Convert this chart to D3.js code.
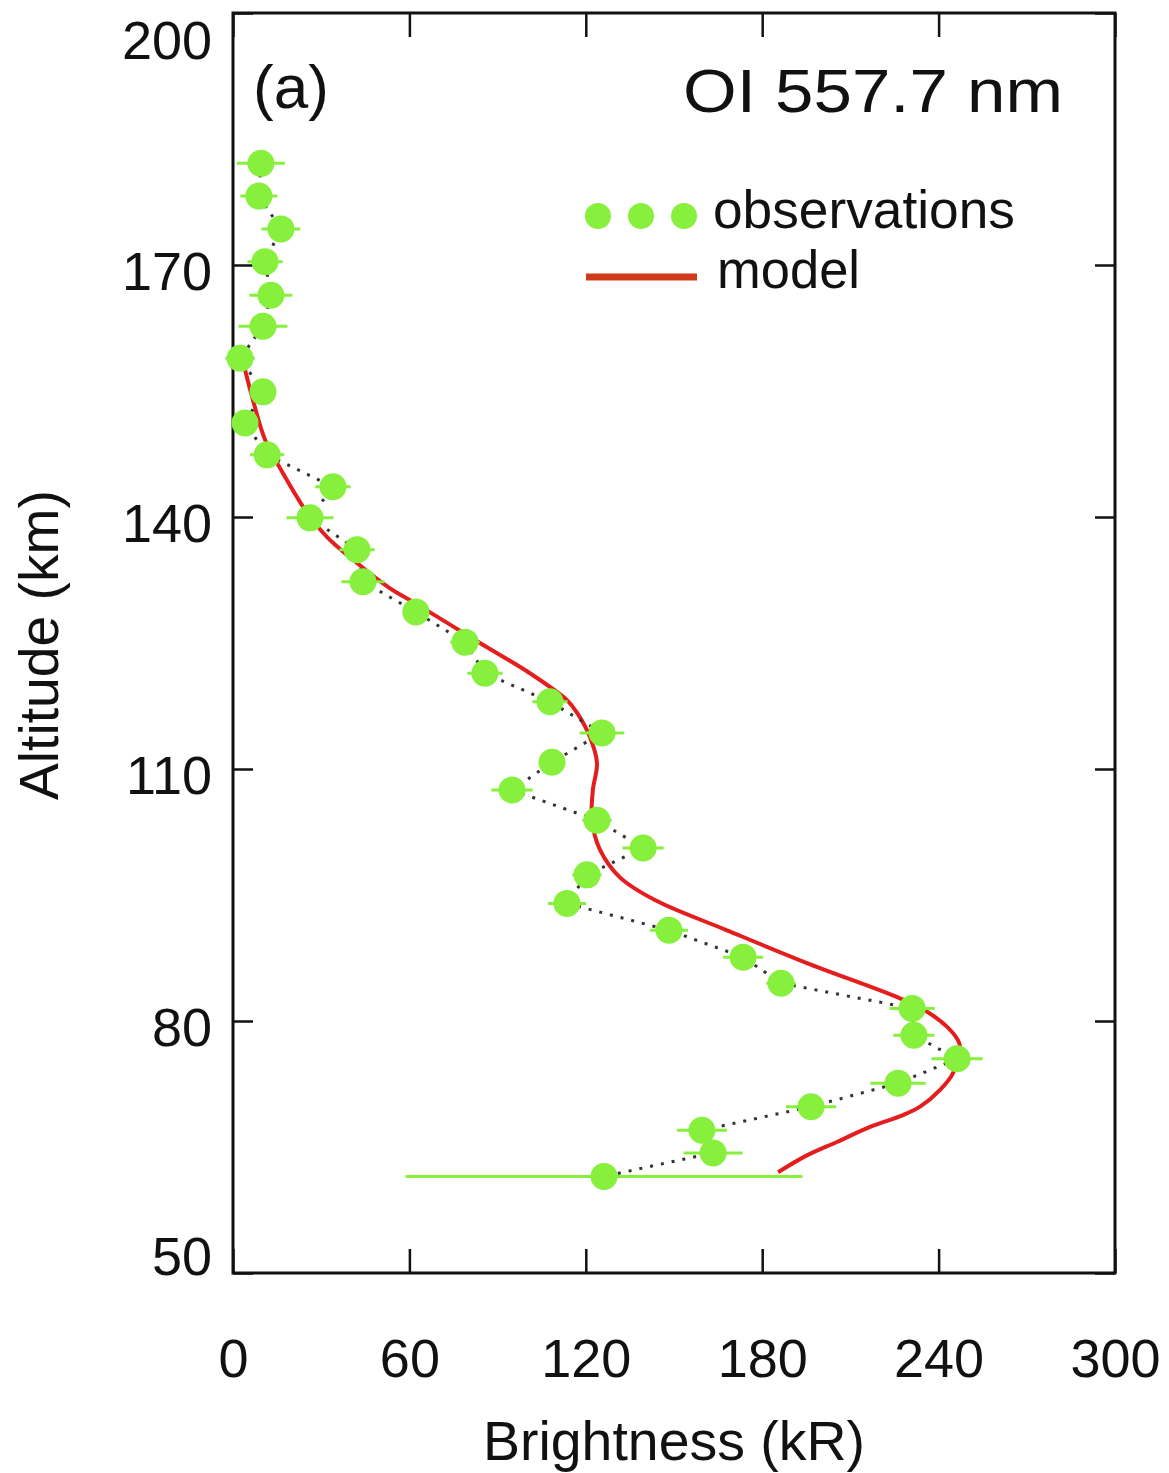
<!DOCTYPE html>
<html>
<head>
<meta charset="utf-8">
<script src="https://cdn.jsdelivr.net/npm/d3@7/dist/d3.min.js"></script>
<style>
  html, body { margin: 0; padding: 0; background: #fff; }
  svg { display: block; }
  text { font-family: "Liberation Sans", Arial, Helvetica, sans-serif; fill: #111; }
</style>
</head>
<body>
<svg id="chart" width="1169" height="1473"></svg>
<script>
// ---------- data ----------
const obsAltitude = [182.1, 178.2, 174.3, 170.4, 166.4, 162.7, 158.9, 154.9, 151.2, 147.4,
  143.6, 139.9, 136.1, 132.3, 128.7, 125.1, 121.4, 118.0, 114.3, 110.8,
  107.5, 103.9, 100.6, 97.4, 94.0, 90.8, 87.6, 84.5, 81.5, 78.3,
  75.5, 72.6, 69.8, 67.0, 64.3, 61.5];
const obsBrightness = [9.5, 8.8, 16.3, 10.9, 12.9, 10.2, 2.4, 10.2, 4.1, 11.6,
  34.0, 26.2, 42.2, 44.2, 62.2, 78.9, 85.7, 107.8, 125.5, 108.5,
  94.9, 123.8, 139.5, 120.4, 113.6, 148.3, 173.5, 186.4, 231.0, 231.6,
  246.3, 226.2, 196.6, 159.5, 163.3, 126.2];
const obsError = [8.2, 6.3, 6.6, 6.0, 7.3, 8.3, 5.0, 3.0, 3.0, 5.8,
  6.0, 8.0, 6.0, 7.3, 3.0, 5.0, 6.0, 6.0, 7.6, 3.0,
  7.0, 5.0, 7.0, 5.0, 6.5, 6.5, 6.8, 5.0, 7.7, 7.0,
  8.7, 9.4, 8.5, 8.5, 10.0, 67.5];

const modelAltitude = [158.1, 153.9, 149.2, 145.2, 140.5, 137.6, 135.2, 131.5, 129.9, 125.0,
  121.4, 118.2, 116.7, 113.8, 110.7, 107.5, 103.9, 100.4, 97.1, 94.4,
  90.8, 86.9, 82.7, 81.1, 79.3, 77.7, 76.9, 73.8, 71.8, 69.8,
  68.8, 67.4, 65.6, 64.0, 62.0];
const modelBrightness = [3.7, 6.8, 10.9, 17.0, 25.2, 32.0, 39.8, 53.4, 61.2, 84.0,
  101.0, 113.6, 117.0, 121.4, 123.8, 122.4, 122.1, 124.8, 131.6, 143.5,
  168.0, 195.2, 226.9, 236.1, 242.9, 246.6, 247.3, 244.9, 240.5, 233.7,
  227.9, 216.7, 205.4, 195.2, 185.4];

const xTicks = [0, 60, 120, 180, 240, 300];
const yTicks = [50, 80, 110, 140, 170, 200];

const xTitle = "Brightness (kR)";
const yTitle = "Altitude (km)";
const panelLabel = "(a)";
const lineLabel = "OI 557.7 nm";
const legendLabels = ["observations", "model"];

// ---------- styles ----------
const GREEN = "#86f03c";
const RED = "#e41e1e";
const LEG_RED = "#cf3a1a";

const svg = d3.select("#chart");
const L = 233, R = 1115, T = 13, B = 1273;

const x = d3.scaleLinear().domain([0, 300]).range([L, R]);
const y = d3.scaleLinear().domain([50, 200]).range([B, T]);

// axes
const fs = 54;
const gx = svg.append("g").attr("transform", `translate(0,${B})`)
  .call(d3.axisBottom(x).tickValues(xTicks).tickSize(-24).tickPadding(66).tickFormat(d3.format("d")));
const gy = svg.append("g").attr("transform", `translate(${L},0)`)
  .call(d3.axisLeft(y).tickValues(yTicks).tickSize(-20).tickPadding(21).tickFormat(d3.format("d")));
svg.append("g").attr("transform", `translate(${R},0)`)
  .call(d3.axisRight(y).tickValues(yTicks).tickSize(-20).tickFormat(""));
svg.append("g").attr("transform", `translate(0,${T})`)
  .call(d3.axisTop(x).tickValues(xTicks).tickSize(-24).tickFormat(""));

svg.selectAll(".domain").remove();
svg.selectAll(".tick line").attr("stroke", "#111").attr("stroke-width", 2.5);
svg.selectAll(".tick text").attr("font-size", fs).attr("fill", "#111")
  .style("font-family", '"Liberation Sans", Arial, sans-serif');

gy.selectAll(".tick text").attr("dy", d => d === 200 ? "0.85em" : (d === 50 ? "0.02em" : "0.45em"));

// frame
svg.append("rect").attr("x", L).attr("y", T).attr("width", R - L).attr("height", B - T)
  .attr("fill", "none").attr("stroke", "#111").attr("stroke-width", 3);

// model curve
const modelData = modelAltitude.map((a, i) => ({ a, b: modelBrightness[i] }));
svg.append("path").datum(modelData)
  .attr("fill", "none").attr("stroke", RED).attr("stroke-width", 4)
  .attr("d", d3.line().x(d => x(d.b)).y(d => y(d.a)).curve(d3.curveCatmullRom.alpha(0.5)));

// observations
const obs = obsAltitude.map((a, i) => ({ a, b: obsBrightness[i], e: obsError[i] }));
svg.append("path").datum(obs)
  .attr("fill", "none").attr("stroke", "#333").attr("stroke-width", 3)
  .attr("stroke-dasharray", "3,8")
  .attr("d", d3.line().x(d => x(d.b)).y(d => y(d.a)));

svg.append("g").selectAll("line").data(obs).join("line")
  .attr("x1", d => x(d.b - d.e)).attr("x2", d => x(d.b + d.e))
  .attr("y1", d => y(d.a)).attr("y2", d => y(d.a))
  .attr("stroke", GREEN).attr("stroke-width", 3);

svg.append("g").selectAll("circle").data(obs).join("circle")
  .attr("cx", d => x(d.b)).attr("cy", d => y(d.a)).attr("r", 13.5)
  .attr("fill", GREEN);

// texts
svg.append("text").attr("x", 253).attr("y", 108).attr("font-size", 62).text(panelLabel);
svg.append("text").attr("x", 683).attr("y", 112).attr("font-size", 62)
  .attr("textLength", 380).attr("lengthAdjust", "spacingAndGlyphs").text(lineLabel);

// legend
svg.append("g").selectAll("circle").data([598, 641, 684]).join("circle")
  .attr("cx", d => d).attr("cy", 216).attr("r", 13).attr("fill", GREEN);
svg.append("text").attr("x", 713).attr("y", 228).attr("font-size", 53)
  .attr("textLength", 302).attr("lengthAdjust", "spacingAndGlyphs").text(legendLabels[0]);
svg.append("line").attr("x1", 586).attr("x2", 697).attr("y1", 277).attr("y2", 277)
  .attr("stroke", LEG_RED).attr("stroke-width", 7);
svg.append("text").attr("x", 717).attr("y", 288).attr("font-size", 53)
  .attr("textLength", 143).attr("lengthAdjust", "spacingAndGlyphs").text(legendLabels[1]);

// axis titles
svg.append("text").attr("x", 674).attr("y", 1460).attr("font-size", 55)
  .attr("text-anchor", "middle").attr("textLength", 382).attr("lengthAdjust", "spacingAndGlyphs").text(xTitle);
svg.append("text").attr("transform", "translate(58,645) rotate(-90)").attr("font-size", 55)
  .attr("text-anchor", "middle").attr("textLength", 310).attr("lengthAdjust", "spacingAndGlyphs").text(yTitle);
</script>
</body>
</html>
